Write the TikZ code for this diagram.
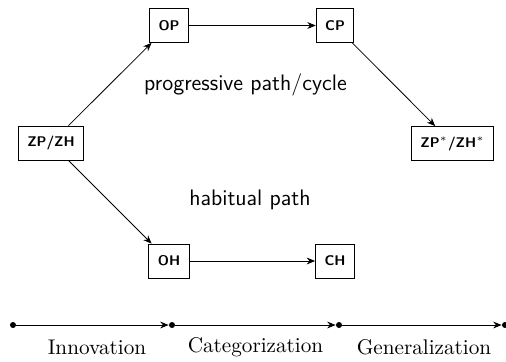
\documentclass[tikz,border=0pt]{standalone}
\usepackage{amsmath}
\usepackage{tikz}
\usetikzlibrary{arrows.meta}

\tikzset{
  stage/.style={draw,font=\scriptsize\sffamily\bfseries,inner xsep=4.5pt,minimum width=17.5pt,minimum height=17pt},
  path label/.style={font=\sffamily\fontsize{11.2}{13}\selectfont},
  phase/.style={font=\fontsize{10.6}{12}\selectfont},
  tick/.style={circle,fill,inner sep=0pt,minimum size=3pt},
  arr/.style={-{Stealth[length=4.2pt,width=3.4pt]}}
}

\begin{document}
\begin{tikzpicture}[x=0.5pt,y=-0.5pt]
\useasboundingbox (0,0) rectangle (506,361);
% stages
\node[stage] (zp) at (51,143) {ZP/ZH};
\node[stage] (op) at (169,25.5) {OP};
\node[stage] (cp) at (335,25.5) {CP};
\node[stage] (zs) at (452.5,143.5) {ZP$^*$/ZH$^*$};
\node[stage] (oh) at (169,261) {OH};
\node[stage] (ch) at (335,261) {CH};
\draw[arr] (zp) -- (op);
\draw[arr] (op) -- (cp);
\draw[arr] (cp) -- (zs);
\draw[arr] (zp) -- (oh);
\draw[arr] (oh) -- (ch);
\node[path label] (prog) at (245.5,85) {progressive path/cycle};
\node[path label] (hab) at (250,200) {habitual path};
% time line
\node[tick] (t0) at (13,325) {};
\node[tick] (t1) at (172,325) {};
\node[tick] (t2) at (339,325) {};
\node[tick] (t3) at (505,325) {};
\draw[arr] (t0) -- (t1);
\draw[arr] (t1) -- (t2);
\draw[arr] (t2) -- (t3);
\node[phase] (inn) at (97,347) {Innovation};
\node[phase] (cat) at (255.5,347) {Categorization};
\node[phase] (gen) at (424,347) {Generalization};
\end{tikzpicture}
\end{document}
